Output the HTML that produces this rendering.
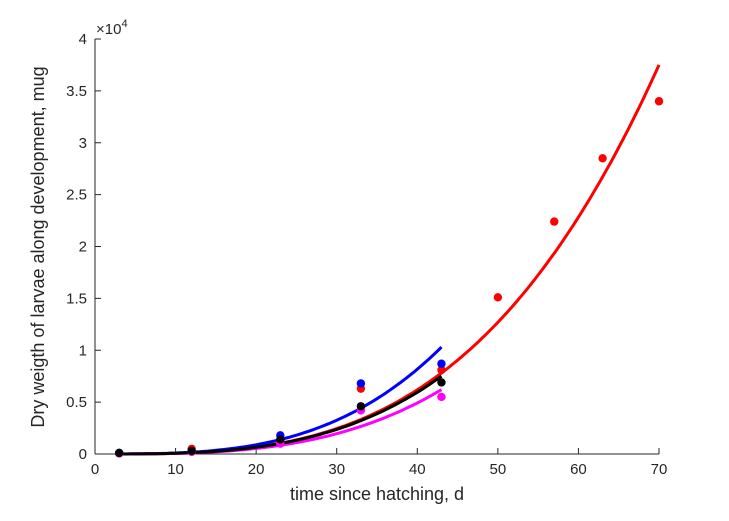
<!DOCTYPE html>
<html><head><meta charset="utf-8"><style>
body{margin:0;background:#fff;}
svg{display:block;font-family:"Liberation Sans",Arial,sans-serif;}
</style></head><body>
<svg id="chart" width="729" height="521"></svg>
<script>
const xTicks=[0,10,20,30,40,50,60,70];
const yTicks=[0,0.5,1,1.5,2,2.5,3,3.5,4];
const yTickLabels=["0","0.5","1","1.5","2","2.5","3","3.5","4"];
const seriesNames=["red","blue","magenta","black"];
const seriesColors=["#ff0000","#0000ff","#ff00ff","#000000"];
const redX=[3,12,23,33,43,50,57,63,70];
const redY=[0.01,0.05,0.12,0.63,0.81,1.51,2.24,2.85,3.40];
const blueX=[3,12,23,33,43];
const blueY=[0.01,0.03,0.18,0.68,0.87];
const magentaX=[3,12,23,33,43];
const magentaY=[0.005,0.02,0.10,0.42,0.55];
const blackX=[3,12,23,33,43];
const blackY=[0.01,0.03,0.14,0.46,0.69];
// power-law fit: value at end, end time, exponent
const fitEndT=[70,43,43,43];
const fitEndV=[3.75,1.03,0.62,0.75];
const fitExp=[3.22,3.2,3.2,3.2];

const X0=95,X1=659,Y0=454,Y1=39;
const sx=v=>X0+(v-0)/(70-0)*(X1-X0);
const sy=v=>Y0-(v/4)*(Y0-Y1);
const svg=document.getElementById('chart');
const NS="http://www.w3.org/2000/svg";
function mk(tag,attrs){const e=document.createElementNS(NS,tag);for(const k in attrs)e.setAttribute(k,attrs[k]);svg.appendChild(e);return e;}

let ax=mk('line',{x1:X0,y1:Y0,x2:X1,y2:Y0,stroke:'#262626','stroke-width':1});


let ay=mk('line',{x1:X0,y1:Y0,x2:X0,y2:Y1,stroke:'#262626','stroke-width':1});



xTicks.forEach(t=>{
  const x=sx(t);
  mk('line',{x1:x,y1:Y0,x2:x,y2:Y0-6,stroke:'#262626'});
  const tx=mk('text',{x:x,y:Y0+20,'text-anchor':'middle','font-size':15,fill:'#262626'});
  tx.textContent=t;
  
  
});
yTicks.forEach((t,i)=>{
  const y=sy(t);
  mk('line',{x1:X0,y1:y,x2:X0+6,y2:y,stroke:'#262626'});
  const tx=mk('text',{x:X0-8,y:y+5,'text-anchor':'end','font-size':15,fill:'#262626'});
  tx.textContent=yTickLabels[i];
  
  
});
const ex=mk('text',{x:96,y:34,'font-size':15,fill:'#262626'});
ex.innerHTML='×10<tspan dy="-7" font-size="11">4</tspan>';


const xl=mk('text',{x:377,y:500,'text-anchor':'middle','font-size':18,fill:'#262626'});
xl.textContent='time since hatching, d';


const yl=mk('text',{x:0,y:0,'text-anchor':'middle','font-size':18,fill:'#262626',transform:'translate(44,247) rotate(-90)'});
yl.textContent='Dry weigth of larvae along development, mug';



const allX=[redX,blueX,magentaX,blackX], allY=[redY,blueY,magentaY,blackY];
// fit curves
seriesNames.forEach((n,i)=>{
  let d='';
  for(let t=3;t<=fitEndT[i]+1e-9;t+=0.5){
    const v=fitEndV[i]*Math.pow(t/fitEndT[i],fitExp[i]);
    d+=(d?'L':'M')+sx(t).toFixed(1)+','+sy(v).toFixed(1);
  }
  const p=mk('path',{d:d,fill:'none',stroke:seriesColors[i],'stroke-width':3});
  
  
});
// points
seriesNames.forEach((n,i)=>{
  allX[i].forEach((x,j)=>{
    const c=mk('circle',{cx:sx(x),cy:sy(allY[i][j]),r:4.2,fill:seriesColors[i]});
    
    
  });
});
</script>
</body></html>
